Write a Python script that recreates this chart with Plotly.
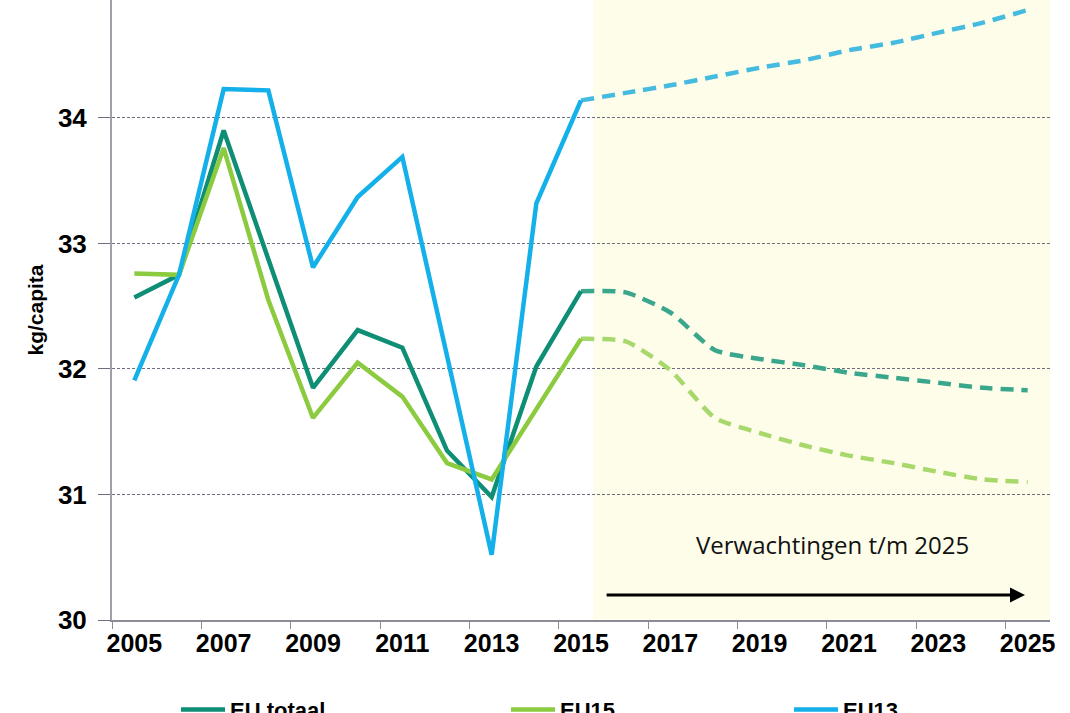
import plotly.graph_objects as go

# jaren
jaren = list(range(2005, 2016))
prognose_jaren = list(range(2015, 2026))

# gemeten waarden (kg/capita)
eu_totaal = [32.57, 32.75, 33.90, 32.87, 31.85, 32.31, 32.17, 31.35, 30.98, 32.02, 32.62]
eu15 = [32.76, 32.75, 33.76, 32.55, 31.61, 32.05, 31.78, 31.25, 31.12, 31.68, 32.24]
eu13 = [31.91, 32.75, 34.23, 34.22, 32.81, 33.37, 33.69, 32.11, 30.52, 33.32, 34.14]

# verwachtingen t/m 2025
eu_totaal_prog = [32.62, 32.61, 32.45, 32.15, 32.08, 32.03, 31.97, 31.93, 31.89, 31.85, 31.83]
eu15_prog = [32.24, 32.22, 31.99, 31.61, 31.49, 31.39, 31.31, 31.25, 31.18, 31.12, 31.10]
eu13_prog = [34.14, 34.20, 34.26, 34.33, 34.40, 34.46, 34.54, 34.60, 34.68, 34.76, 34.86]

tick_jaren = list(range(2005, 2026, 2))

fig = go.Figure()

# prognoses eerst (gestippeld), zodat de gemeten lijnen erboven liggen
fig.add_trace(go.Scatter(x=prognose_jaren, y=eu_totaal_prog, mode="lines", showlegend=False,
                         line=dict(color="#3AA68B", width=4.5, dash="13px,8px", shape="spline", smoothing=0.6)))
fig.add_trace(go.Scatter(x=prognose_jaren, y=eu15_prog, mode="lines", showlegend=False,
                         line=dict(color="#A8D86C", width=4.5, dash="13px,8px", shape="spline", smoothing=0.6)))
fig.add_trace(go.Scatter(x=prognose_jaren, y=eu13_prog, mode="lines", showlegend=False,
                         line=dict(color="#45BBE0", width=4.5, dash="13px,8px", shape="spline", smoothing=0.6)))

fig.add_trace(go.Scatter(x=jaren, y=eu_totaal, mode="lines", name="<b>EU totaal</b>", legend="legend",
                         line=dict(color="#0E8E74", width=4.5)))
fig.add_trace(go.Scatter(x=jaren, y=eu15, mode="lines", name="<b>EU15</b>", legend="legend2",
                         line=dict(color="#8CCB3F", width=4.5)))
fig.add_trace(go.Scatter(x=jaren, y=eu13, mode="lines", name="<b>EU13</b>", legend="legend3",
                         line=dict(color="#14B0EA", width=4.5)))

# achtergrond voor de verwachtingen
fig.add_shape(type="rect", xref="x", yref="paper", x0=2015.27, x1=2025.5, y0=0, y1=1,
              fillcolor="#FDFDEA", line=dict(width=0), layer="below")

# pijl en tekst
fig.add_annotation(x=2024.94, y=30.2, ax=2015.54, ay=30.2, xref="x", yref="y", axref="x", ayref="y",
                   showarrow=True, arrowhead=2, arrowsize=1, arrowwidth=3, arrowcolor="black", text="")
fig.add_annotation(x=2020.62, y=30.6, xref="x", yref="y", text="Verwachtingen t/m 2025", showarrow=False,
                   font=dict(family="Open Sans", size=24, color="#111111"))

leg = dict(orientation="h", yanchor="top", y=-0.111, xanchor="left", bgcolor="rgba(0,0,0,0)",
           font=dict(family="Arial", size=22, color="black"), itemwidth=44)

fig.update_layout(
    width=1070, height=713,
    margin=dict(l=112, r=20, t=0, b=93, autoexpand=False),
    paper_bgcolor="white", plot_bgcolor="white",
    font=dict(family="Arial", color="black"),
    legend=dict(leg, x=(176 - 112) / 938),
    legend2=dict(leg, x=(506 - 112) / 938),
    legend3=dict(leg, x=(789 - 112) / 938),
    xaxis=dict(
        range=[2004.5, 2025.5], tickmode="array", tickvals=tick_jaren,
        ticktext=[f"<b>{j}</b>" for j in tick_jaren],
        tickfont=dict(size=25, color="black"), ticks="",
        showgrid=False, zeroline=False, automargin=False,
        showline=True, linecolor="#8C8C96", linewidth=2,
        minor=dict(tick0=2004.5, dtick=2, ticks="outside", ticklen=7, tickcolor="#8C8C96", showgrid=False),
    ),
    yaxis=dict(
        range=[30, 34.94], tickmode="array", tickvals=[30, 31, 32, 33, 34],
        ticktext=["<b>30</b>", "<b>31</b>", "<b>32</b>", "<b>33</b>", "<b>34</b>"],
        tickfont=dict(size=26, color="black"), ticks="outside", ticklen=12, tickcolor="#6E6E7E",
        ticklabelstandoff=6, automargin=False,
        showgrid=True, gridcolor="#6E6E7E", griddash="3px,2px", gridwidth=1,
        zeroline=False, showline=True, linecolor="#A0A0A8", linewidth=2,
        title=dict(text="<b>kg/capita</b>", font=dict(size=21, color="black"), standoff=9),
    ),
)

fig.write_html("out.html", config={"displayModeBar": False},
               post_script="document.body.style.margin='0';")
